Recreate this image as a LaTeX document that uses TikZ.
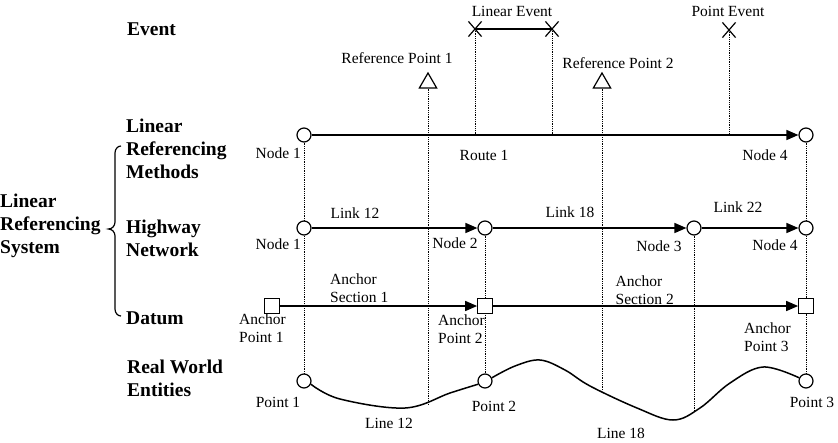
\documentclass[tikz,border=0pt]{standalone}
\usepackage{fontspec}
\setmainfont{Liberation Serif}
\usetikzlibrary{shapes.geometric,shapes.misc,arrows.meta,backgrounds}
\begin{document}
\begin{tikzpicture}[x=1pt,y=-1pt,
 big/.style={font=\fontsize{19.5}{23}\selectfont\bfseries, align=left, inner sep=0, anchor=west},
 lbl/.style={font=\fontsize{15.5}{18}\selectfont, inner sep=0},
 lblw/.style={lbl, align=left, anchor=west},
 nd/.style={circle, draw, fill=white, line width=1.2pt, minimum size=14pt, inner sep=0},
 sq/.style={rectangle, draw, fill=white, line width=1.2pt, minimum size=14.5pt, inner sep=0},
 refpt/.style={regular polygon, regular polygon sides=3, draw, fill=white, line width=1.2pt, minimum size=20pt, inner sep=0},
 xmark/.style={cross out, draw, line width=1.2pt, minimum width=12pt, minimum height=14pt, inner sep=0},
 link/.style={line width=1.5pt, -{Triangle[length=12pt,width=10pt]}},
 plain/.style={line width=1.5pt},
 guide/.style={dash pattern=on 0.9pt off 0.9pt, line width=0.9pt},
]
\useasboundingbox (0,0) rectangle (838,442);

% left titles
\node[big] (tEvent) at (127,29) {Event};
\node[big] (tLRM) at (126,149) {Linear\\Referencing\\Methods};
\node[big] (tHN) at (126,238.5) {Highway\\Network};
\node[big] (tDatum) at (126,318) {Datum};
\node[big] (tRWE) at (127,378) {Real World\\Entities};
\node[big] (tLRS) at (0,226) {Linear\\Referencing\\System};
\draw[line width=1.2pt] (121,146) to[out=180,in=90] (115,153) -- (115,222)
  to[out=-90,in=0] (108.5,229) to[out=0,in=90] (115,236) -- (115,309)
  to[out=-90,in=180] (121,316);

% event marks and reference points
\node[xmark] (LE1) at (475,29) {};
\node[xmark] (LE2) at (552,29) {};
\node[xmark] (PE) at (729,30) {};
\node[refpt] (RP1) at (428,83) {};
\node[refpt] (RP2) at (602,83) {};

% route
\node[nd] (R1) at (304,135) {};
\node[nd] (R4) at (806,135) {};
% highway network
\node[nd] (H1) at (304,228) {};
\node[nd] (H2) at (485,228) {};
\node[nd] (H3) at (694,228) {};
\node[nd] (H4) at (806,228) {};
% datum
\node[sq] (A1) at (272,306) {};
\node[sq] (A2) at (485,306) {};
\node[sq] (A3) at (806,306) {};
% real world
\node[nd] (P1) at (304,381) {};
\node[nd] (P2) at (485,381) {};
\node[nd] (P3) at (806,381) {};

% guide end points
\coordinate (gLE1) at (475,135);
\coordinate (gLE2) at (552,135);
\coordinate (gPE) at (729,135);
\coordinate (gRP1) at (428,405);
\coordinate (gRP2) at (602,391);
\coordinate (gH3) at (694,411);

\begin{pgfonlayer}{background}
\draw[guide] (R1) -- (P1);
\draw[guide] (R4) -- (P3);
\draw[guide] (H2) -- (P2);
\draw[guide] (H3) -- (gH3);
\draw[guide] (RP1.south) -- (gRP1);
\draw[guide] (RP2.south) -- (gRP2);
\draw[guide] (LE1.center) -- (gLE1);
\draw[guide] (LE2.center) -- (gLE2);
\draw[guide] (PE.center) -- (gPE);
\end{pgfonlayer}

% connectors
\draw[plain] (LE1.center) -- (LE2.center);
\draw[link] (R1) -- (R4);
\draw[link] (H1) -- (H2);
\draw[link] (H2) -- (H3);
\draw[link] (H3) -- (H4);
\draw[link] (A1) -- (A2);
\draw[link] (A2) -- (A3);
\draw[plain] plot[smooth, tension=0.6] coordinates {(P1.-25) (340,399) (405,408) (450,393) (P2.-155)};
\draw[plain] plot[smooth, tension=0.6] coordinates {(P2.25) (515,366) (540,360) (565,370) (590,386) (637,408) (673,420) (700,408) (730,383) (763,367) (P3.155)};

% labels
\node[lbl] (lRP1) at (397,58) {Reference Point 1};
\node[lbl] (lRP2) at (618,63) {Reference Point 2};
\node[lbl] (lLE) at (512,11) {Linear Event};
\node[lbl] (lPE) at (728,11) {Point Event};
\node[lbl, anchor=east] (lR1) at (301,153) {Node 1};
\node[lbl] (lRoute) at (484,155) {Route 1};
\node[lbl] (lR4) at (765,155) {Node 4};
\node[lbl, anchor=east] (lH1) at (301,244) {Node 1};
\node[lbl] (lL12) at (355,213) {Link 12};
\node[lbl] (lL18) at (570,212) {Link 18};
\node[lbl] (lL22) at (738,207) {Link 22};
\node[lbl] (lH2) at (455,243) {Node 2};
\node[lbl] (lH3) at (659,246.5) {Node 3};
\node[lbl] (lH4) at (775,245.5) {Node 4};
\node[lblw] (lAS1) at (330,288.5) {Anchor\\Section 1};
\node[lblw] (lAS2) at (615.5,290) {Anchor\\Section 2};
\node[lblw] (lA1) at (239,328) {Anchor\\Point 1};
\node[lblw] (lA2) at (438,329) {Anchor\\Point 2};
\node[lblw] (lA3) at (744,337) {Anchor\\Point 3};
\node[lbl] (lP1) at (278,402) {Point 1};
\node[lbl] (lLn12) at (389,423) {Line 12};
\node[lbl] (lP2) at (494,406.5) {Point 2};
\node[lbl] (lLn18) at (621,433) {Line 18};
\node[lbl] (lP3) at (812,402.5) {Point 3};
\end{tikzpicture}
\end{document}
